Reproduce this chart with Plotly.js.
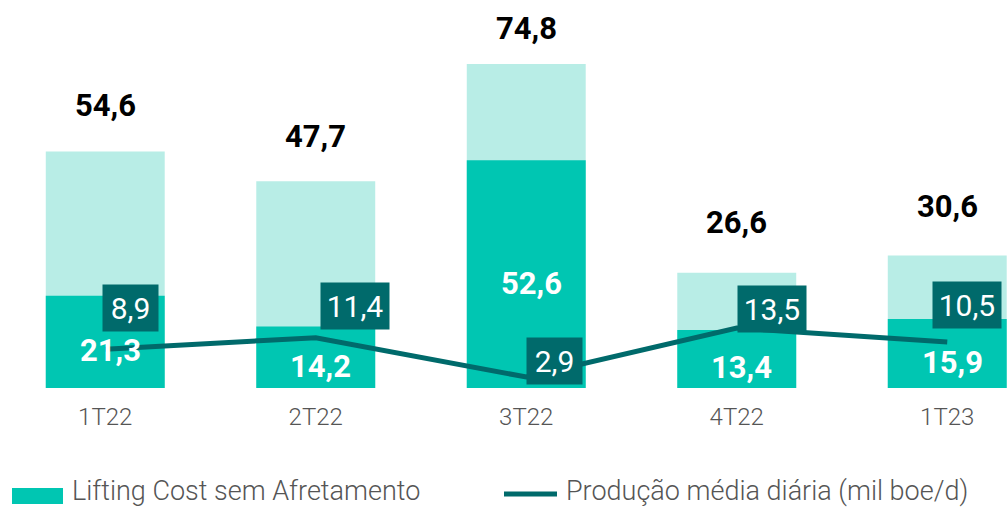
<!DOCTYPE html>
<html>
<head>
<meta charset="utf-8">
<script src="https://cdn.plot.ly/plotly-3.0.1.min.js"></script>
<style>html,body{margin:0;padding:0;background:#fff;}#chart{width:1007px;height:507px;}</style>
</head>
<body>
<div id="chart"></div>
<script>
const categories = ['1T22', '2T22', '3T22', '4T22', '1T23'];
const totalCost = [54.6, 47.7, 74.8, 26.6, 30.6];
const liftingCost = [21.3, 14.2, 52.6, 13.4, 15.9];
const production = [8.9, 11.4, 2.9, 13.5, 10.5];
const legendNames = ['Lifting Cost sem Afretamento', 'Produção média diária (mil boe/d)'];

// style-only offsets (pixels) for label placement
const totalLabelShift = [46, 45, 35, 50, 49];
const boxShiftX = [25, 39, 28, 35, 20];
const boxShiftY = [41, 32, 16, 19, 37];

const W = 1007, H = 507, mL = 0, mR = 0, mT = 0, mB = 119;
const plotH = H - mT - mB, plotW = W - mL - mR;
const px = x => (x - mL) / plotW;
const py = y => (H - mB - y) / plotH;

const fmt = v => v.toFixed(1).replace('.', ',');
const FONT = 'Roboto, "Noto Sans", sans-serif';
const DARK = '#006A6B', MID = '#00C6B2', LIGHT = '#B8EDE6';

const traces = [
  {type: 'bar', x: categories, y: totalCost, marker: {color: LIGHT}, width: 0.565, hoverinfo: 'skip', showlegend: false},
  {type: 'bar', x: categories, y: liftingCost, marker: {color: MID}, width: 0.565, hoverinfo: 'skip', showlegend: false},
  {type: 'scatter', mode: 'lines', x: categories, y: production, yaxis: 'y2', line: {color: DARK, width: 5}, hoverinfo: 'skip', showlegend: false}
];

const annotations = [];
categories.forEach((c, i) => {
  annotations.push({x: c, y: totalCost[i], xref: 'x', yref: 'y', text: '<b>' + fmt(totalCost[i]) + '</b>', showarrow: false, yshift: totalLabelShift[i], font: {family: FONT, size: 31, color: '#000'}});
  annotations.push({x: c, y: liftingCost[i] / 2, xref: 'x', yref: 'y', text: '<b>' + fmt(liftingCost[i]) + '</b>', showarrow: false, yshift: -9, xshift: 5, font: {family: FONT, size: 31, color: '#fff'}});
  const t = fmt(production[i]);
  annotations.push({x: c, y: production[i], xref: 'x', yref: 'y2', text: t, showarrow: false, xshift: boxShiftX[i], yshift: boxShiftY[i], bgcolor: DARK, borderpad: 3, width: t.length * 13 + 10, height: 40, font: {family: FONT, size: 30, color: '#fff'}});
});
// legend
annotations.push({x: px(70), y: py(491), xref: 'paper', yref: 'paper', xanchor: 'left', yanchor: 'middle', text: legendNames[0], showarrow: false, font: {family: FONT, size: 27, color: '#555', weight: 300}});
annotations.push({x: px(564), y: py(491), xref: 'paper', yref: 'paper', xanchor: 'left', yanchor: 'middle', text: legendNames[1], showarrow: false, font: {family: FONT, size: 27, color: '#555', weight: 300}});

const shapes = [
  {type: 'rect', xref: 'paper', yref: 'paper', x0: px(12), x1: px(63), y0: py(504), y1: py(488), fillcolor: MID, line: {width: 0}},
  {type: 'line', xref: 'paper', yref: 'paper', x0: px(504), x1: px(557), y0: py(494), y1: py(494), line: {color: DARK, width: 5}}
];

const layout = {
  width: W, height: H,
  margin: {l: mL, r: mR, t: mT, b: mB, pad: 0},
  paper_bgcolor: '#fff', plot_bgcolor: '#fff',
  barmode: 'overlay',
  showlegend: false,
  xaxis: {type: 'category', range: [-0.5, -0.5 + plotW / 210.5], showgrid: false, zeroline: false, showline: false, ticks: '', tickfont: {family: FONT, size: 24, color: '#555', weight: 300}, ticklabelstandoff: 12, fixedrange: true},
  yaxis: {range: [0, plotH / 4.332], visible: false, showgrid: false, zeroline: false, fixedrange: true},
  yaxis2: {range: [(390.4 - 388) / 4.62, 390.4 / 4.62], overlaying: 'y', side: 'right', visible: false, showgrid: false, zeroline: false, fixedrange: true},
  annotations: annotations,
  shapes: shapes
};

Plotly.newPlot('chart', traces, layout, {displayModeBar: false, staticPlot: true});
</script>
</body>
</html>
